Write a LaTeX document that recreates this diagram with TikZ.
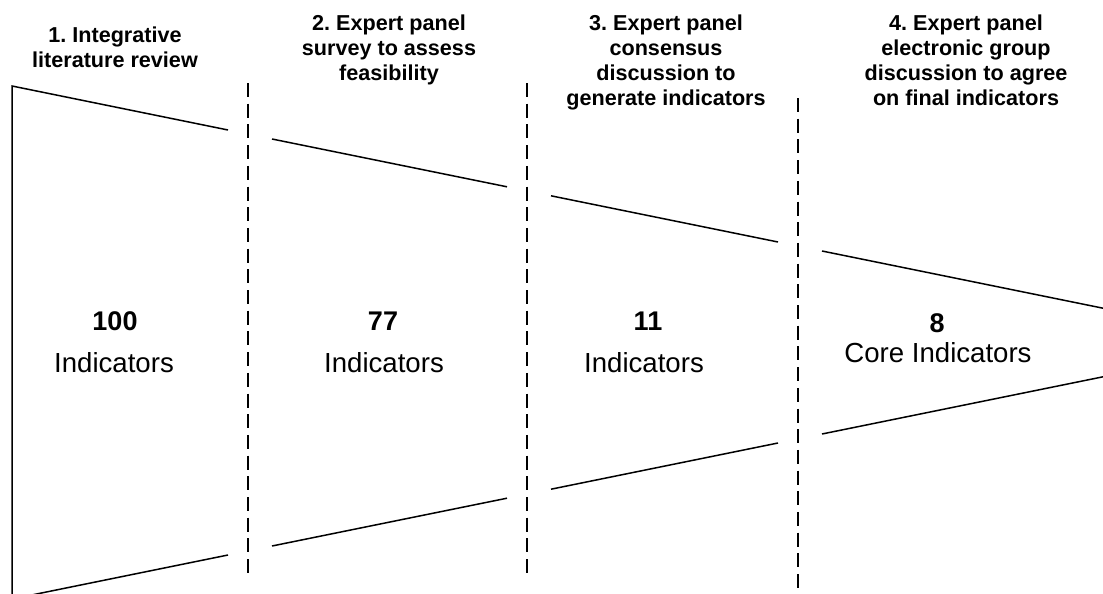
\documentclass[tikz,border=0pt]{standalone}
\usepackage{fontspec}
\setmainfont{Liberation Sans}
\frenchspacing
\begin{document}
\begin{tikzpicture}[x=1pt,y=-1pt,
  funnel/.style={line width=1.5pt},
  divider/.style={line width=1.5pt, dash pattern=on 14pt off 6.7pt},
  head/.style={font=\bfseries\fontsize{21.6}{25}\selectfont, align=center, anchor=north, inner sep=0pt},
  num/.style={font=\bfseries\fontsize{27}{32}\selectfont, anchor=base, inner sep=0pt},
  lab/.style={font=\fontsize{27.6}{32}\selectfont, anchor=base, inner sep=0pt}]
\useasboundingbox (0,0) rectangle (1103,594);
\clip (0,0) rectangle (1103,594);
% funnel corners
\coordinate (lt) at (12,86);
\coordinate (lb) at (12,599);
\coordinate (a1t) at (228,130.0);  \coordinate (a1b) at (228,555.0);
\coordinate (b2t) at (272,139.0);  \coordinate (b2b) at (272,546.0);
\coordinate (a2t) at (507,186.8);  \coordinate (a2b) at (507,498.2);
\coordinate (b3t) at (551,195.8);  \coordinate (b3b) at (551,489.2);
\coordinate (a3t) at (778,242.0);  \coordinate (a3b) at (778,443.0);
\coordinate (b4t) at (822,251.0);  \coordinate (b4b) at (822,434.0);
\coordinate (a4t) at (1103,308.2); \coordinate (a4b) at (1103,376.8);
% funnel segments
\draw[funnel] (a1t) -- (lt) -- (lb) -- (a1b);
\draw[funnel] (b2t) -- (a2t);
\draw[funnel] (b2b) -- (a2b);
\draw[funnel] (b3t) -- (a3t);
\draw[funnel] (b3b) -- (a3b);
\draw[funnel] (b4t) -- (a4t);
\draw[funnel] (b4b) -- (a4b);
% dividers
\coordinate (d1t) at (248,83); \coordinate (d1b) at (248,579);
\coordinate (d2t) at (527,83); \coordinate (d2b) at (527,579);
\coordinate (d3t) at (798,98); \coordinate (d3b) at (798,600);
\draw[divider] (d1t) -- (d1b);
\draw[divider] (d2t) -- (d2b);
\draw[divider] (d3t) -- (d3b);
% headings
\node[head] (h1) at (115,27) {1. Integrative\\literature review};
\node[head] (h2) at (389,15) {2. Expert panel\\survey to assess\\feasibility};
\node[head] (h3) at (666,15) {3. Expert panel\\consensus\\discussion to\\generate indicators};
\node[head] (h4) at (966,15) {4. Expert panel\\electronic group\\discussion to agree\\on final indicators};
% counts
\node[num] (n1) at (115,330) {100};
\node[lab] (l1) at (114,372) {Indicators};
\node[num] (n2) at (383,330) {77};
\node[lab] (l2) at (384,372) {Indicators};
\node[num] (n3) at (648,330) {11};
\node[lab] (l3) at (644,372) {Indicators};
\node[num] (n4) at (937,332) {8};
\node[lab] (l4) at (938,362) {Core Indicators};
\end{tikzpicture}
\end{document}
